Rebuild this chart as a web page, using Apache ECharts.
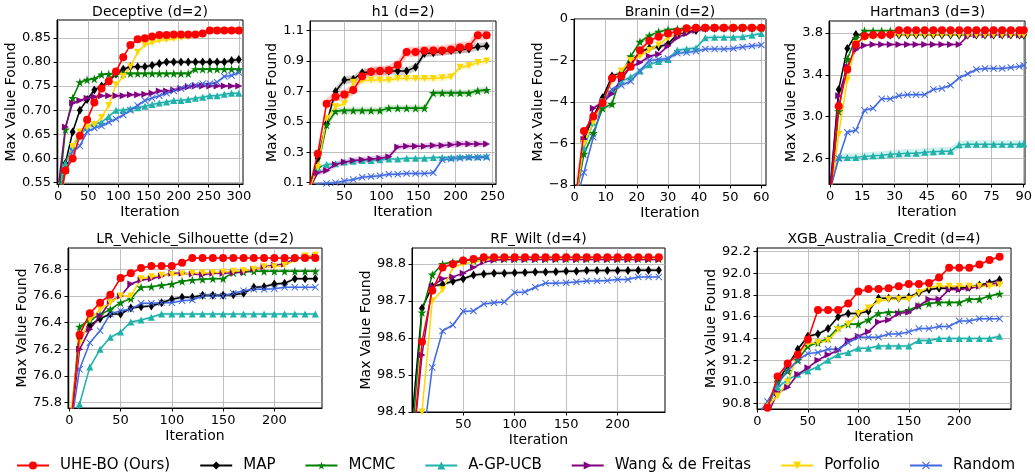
<!DOCTYPE html>
<html>
<head>
<meta charset="utf-8">
<script src="https://cdn.jsdelivr.net/npm/echarts@6/dist/echarts.min.js"></script>
<style>
html,body{margin:0;padding:0;background:#fff;}
#chart{width:1035px;height:475px;}
</style>
</head>
<body>
<div id="chart"></div>
<script>
// ---------------- Data ----------------
const methodNames = ['UHE-BO (Ours)','MAP','MCMC','A-GP-UCB','Wang & de Freitas','Porfolio','Random'];

// Deceptive (d=2)
const decIter = [1,12,24,36,48,60,72,84,96,108,120,132,144,156,168,180,192,204,216,228,240,252,264,276,288,300];
const decUHE  = [0.50,0.575,0.60,0.647,0.68,0.716,0.745,0.76,0.78,0.81,0.835,0.847,0.849,0.853,0.856,0.856,0.857,0.857,0.857,0.857,0.859,0.865,0.865,0.865,0.865,0.865];
const decMAP  = [0.50,0.59,0.655,0.70,0.722,0.742,0.75,0.76,0.775,0.785,0.79,0.79,0.79,0.793,0.797,0.80,0.80,0.80,0.80,0.80,0.80,0.80,0.80,0.80,0.803,0.805];
const decMCMC = [0.52,0.66,0.725,0.758,0.763,0.765,0.774,0.775,0.776,0.776,0.776,0.776,0.776,0.776,0.776,0.776,0.776,0.776,0.776,0.785,0.785,0.785,0.785,0.785,0.785,0.785];
const decAGP  = [0.52,0.59,0.625,0.647,0.665,0.672,0.675,0.687,0.70,0.70,0.703,0.705,0.708,0.712,0.715,0.717,0.72,0.72,0.722,0.725,0.727,0.73,0.73,0.733,0.735,0.735];
const decWang = [0.55,0.665,0.715,0.72,0.725,0.728,0.73,0.73,0.73,0.73,0.732,0.732,0.733,0.735,0.74,0.74,0.742,0.745,0.748,0.75,0.75,0.75,0.75,0.75,0.75,0.75];
const decPorf = [0.50,0.57,0.625,0.655,0.665,0.67,0.685,0.71,0.753,0.77,0.79,0.82,0.835,0.84,0.845,0.846,0.848,0.85,0.852,0.855,0.857,0.865,0.865,0.865,0.865,0.865];
const decRand = [0.50,0.575,0.615,0.626,0.655,0.663,0.667,0.675,0.682,0.69,0.70,0.71,0.72,0.725,0.73,0.735,0.74,0.745,0.75,0.752,0.755,0.755,0.758,0.77,0.772,0.778];
const decErr  = [0.004,0.004,0.003,0.004,0.004,0.004,0.004];
const decXTicks = [0,50,100,150,200,250,300];
const decYTicks = [0.55,0.60,0.65,0.70,0.75,0.80,0.85];

// h1 (d=2)
const h1Iter = [2,14,26,38,50,62,74,86,98,110,122,134,146,158,170,182,194,206,218,230,242];
const h1UHE  = [0.05,0.29,0.62,0.665,0.68,0.71,0.80,0.83,0.835,0.84,0.875,0.96,0.96,0.968,0.97,0.97,0.977,0.99,0.995,1.07,1.07];
const h1MAP  = [0.05,0.26,0.49,0.70,0.775,0.78,0.824,0.83,0.835,0.835,0.835,0.835,0.86,0.95,0.955,0.965,0.97,0.975,0.98,0.995,1.0];
const h1MCMC = [0.05,0.2,0.48,0.57,0.575,0.575,0.575,0.575,0.575,0.59,0.59,0.59,0.59,0.59,0.69,0.69,0.69,0.69,0.69,0.705,0.71];
const h1AGP  = [0.05,0.2,0.22,0.225,0.235,0.24,0.245,0.245,0.25,0.255,0.255,0.26,0.26,0.26,0.265,0.265,0.265,0.27,0.27,0.27,0.275];
const h1Wang = [0.05,0.165,0.18,0.22,0.235,0.245,0.25,0.255,0.26,0.27,0.335,0.34,0.34,0.34,0.345,0.345,0.35,0.355,0.355,0.355,0.355];
const h1Porf = [0.05,0.2,0.52,0.6,0.62,0.76,0.77,0.775,0.775,0.775,0.785,0.785,0.785,0.785,0.785,0.79,0.795,0.86,0.87,0.89,0.90];
const h1Rand = [0.05,0.09,0.095,0.1,0.11,0.12,0.135,0.14,0.145,0.155,0.155,0.16,0.16,0.16,0.165,0.25,0.255,0.26,0.265,0.265,0.265];
const h1Err  = [0.035,0.025,0.02,0.012,0.02,0.02,0.012];
const h1XTicks = [50,100,150,200,250];
const h1YTicks = [0.1,0.3,0.5,0.7,0.9,1.1];

// Branin (d=2)
const brIter = [0,3,6,9,12,15,18,21,24,27,30,33,36,39,42,45,48,51,54,57,60];
const brUHE  = [-9,-5.4,-4.7,-4.05,-2.85,-2.75,-2.3,-1.5,-1.05,-0.85,-0.7,-0.6,-0.45,-0.42,-0.42,-0.42,-0.42,-0.42,-0.42,-0.42,-0.42];
const brMAP  = [-9,-5.8,-4.7,-3.8,-2.75,-2.6,-2.1,-1.6,-1.4,-1.35,-1.2,-0.75,-0.6,-0.55,-0.45,-0.45,-0.45,-0.45,-0.45,-0.45,-0.45];
const brMCMC = [-9,-6.5,-5.5,-4.3,-4.1,-2.7,-1.8,-1.1,-0.8,-0.62,-0.52,-0.48,-0.45,-0.42,-0.42,-0.42,-0.42,-0.42,-0.42,-0.42,-0.42];
const brAGP  = [-9,-6.2,-5.0,-4.1,-3.5,-3.0,-2.8,-2.5,-2.2,-2.05,-1.95,-1.5,-1.45,-1.4,-0.9,-0.88,-0.88,-0.88,-0.85,-0.78,-0.7];
const brWang = [-9,-5.8,-4.3,-4.0,-3.6,-2.9,-2.3,-2.1,-1.8,-1.7,-1.3,-0.9,-0.7,-0.55,-0.45,-0.42,-0.42,-0.42,-0.42,-0.42,-0.42];
const brPorf = [-9,-6.0,-5.0,-4.0,-3.0,-2.5,-2.0,-1.8,-1.5,-1.25,-0.9,-0.7,-0.55,-0.45,-0.42,-0.42,-0.42,-0.42,-0.42,-0.42,-0.42];
const brRand = [-9,-7.4,-5.7,-4.0,-3.4,-3.2,-3.0,-2.5,-2.0,-1.95,-1.9,-1.65,-1.62,-1.55,-1.45,-1.45,-1.45,-1.42,-1.35,-1.3,-1.25];
const brErr  = [0.1,0.1,0.1,0.1,0.1,0.1,0.12];
const brXTicks = [0,10,20,30,40,50,60];
const brYTicks = [-8,-6,-4,-2,0];

// Hartman3 (d=3)
const hmIter = [0,4,8,12,16,20,24,28,32,36,40,44,48,52,56,60,64,68,72,76,80,84,88,90];
const hmUHE  = [2.2,3.1,3.45,3.69,3.77,3.78,3.78,3.785,3.825,3.825,3.825,3.825,3.825,3.825,3.825,3.825,3.825,3.825,3.825,3.825,3.825,3.825,3.825,3.825];
const hmMAP  = [2.3,3.26,3.65,3.785,3.78,3.78,3.78,3.78,3.78,3.78,3.78,3.78,3.78,3.78,3.78,3.78,3.78,3.78,3.78,3.78,3.78,3.78,3.78,3.78];
const hmMCMC = [2.2,3.05,3.55,3.75,3.82,3.82,3.82,3.82,3.82,3.82,3.82,3.82,3.82,3.82,3.82,3.82,3.82,3.82,3.82,3.82,3.82,3.82,3.82,3.82];
const hmAGP  = [2.3,2.61,2.61,2.61,2.62,2.625,2.63,2.64,2.645,2.65,2.65,2.66,2.665,2.67,2.67,2.73,2.735,2.735,2.735,2.735,2.735,2.735,2.735,2.74];
const hmWang = [2.3,3.2,3.48,3.64,3.68,3.69,3.69,3.69,3.69,3.69,3.69,3.69,3.69,3.69,3.69,3.69,3.77,3.78,3.78,3.78,3.78,3.78,3.78,3.78];
const hmPorf = [2.2,2.83,3.35,3.70,3.75,3.76,3.77,3.78,3.78,3.78,3.78,3.78,3.78,3.78,3.78,3.78,3.78,3.78,3.78,3.78,3.78,3.78,3.78,3.78];
const hmRand = [2.3,2.6,2.85,2.87,3.06,3.08,3.17,3.17,3.2,3.21,3.21,3.21,3.26,3.27,3.3,3.37,3.41,3.45,3.46,3.46,3.46,3.47,3.48,3.49];
const hmErr  = [0.01,0.01,0.01,0.04,0.012,0.01,0.015];
const hmXTicks = [0,15,30,45,60,75,90];
const hmYTicks = [2.6,3.0,3.4,3.8];

// LR_Vehicle_Silhouette (d=2)
const lrIter = [1,10,20,30,40,50,60,70,80,90,100,110,120,130,140,150,160,170,180,190,200,210,220,230,240];
const lrUHE  = [75.6,76.31,76.47,76.55,76.61,76.735,76.77,76.81,76.825,76.825,76.825,76.85,76.885,76.885,76.885,76.885,76.885,76.885,76.885,76.885,76.885,76.885,76.885,76.885,76.885];
const lrMAP  = [75.6,76.28,76.38,76.43,76.465,76.465,76.51,76.52,76.525,76.55,76.575,76.59,76.59,76.605,76.605,76.605,76.61,76.62,76.665,76.67,76.69,76.695,76.73,76.73,76.73];
const lrMCMC = [75.6,76.37,76.42,76.46,76.5,76.55,76.58,76.665,76.67,76.68,76.69,76.71,76.72,76.725,76.73,76.73,76.775,76.78,76.785,76.785,76.785,76.785,76.785,76.785,76.785];
const lrAGP  = [75.5,75.79,76.067,76.2,76.29,76.33,76.405,76.42,76.44,76.465,76.465,76.465,76.465,76.465,76.465,76.465,76.465,76.465,76.465,76.465,76.465,76.465,76.465,76.465,76.465];
const lrWang = [75.6,76.2,76.35,76.45,76.56,76.6,76.69,76.72,76.73,76.75,76.77,76.77,76.765,76.76,76.77,76.77,76.775,76.78,76.8,76.82,76.83,76.84,76.88,76.89,76.895];
const lrPorf = [75.7,76.25,76.42,76.5,76.55,76.6,76.6,76.73,76.745,76.755,76.76,76.765,76.77,76.775,76.775,76.78,76.785,76.79,76.8,76.82,76.82,76.83,76.87,76.9,76.905];
const lrRand = [75.6,76.05,76.25,76.34,76.465,76.49,76.5,76.545,76.545,76.55,76.55,76.565,76.57,76.6,76.6,76.6,76.62,76.64,76.65,76.65,76.655,76.665,76.665,76.665,76.665];
const lrErr  = [0.008,0.012,0.008,0.012,0.01,0.01,0.008];
const lrXTicks = [0,50,100,150,200];
const lrYTicks = [75.8,76.0,76.2,76.4,76.6,76.8];

// RF_Wilt (d=4)
const rfIter = [1,10,20,30,40,50,60,70,80,90,100,110,120,130,140,150,160,170,180,190,200,210,220,230,240];
const rfUHE  = [98.3,98.59,98.728,98.79,98.80,98.809,98.813,98.818,98.818,98.818,98.818,98.818,98.818,98.818,98.818,98.818,98.818,98.818,98.818,98.818,98.818,98.818,98.818,98.818,98.818];
const rfMAP  = [98.4,98.68,98.74,98.745,98.753,98.76,98.77,98.773,98.775,98.775,98.776,98.777,98.778,98.778,98.779,98.78,98.78,98.782,98.782,98.782,98.782,98.782,98.783,98.783,98.783];
const rfMCMC = [98.35,98.669,98.771,98.80,98.805,98.81,98.81,98.814,98.814,98.814,98.814,98.814,98.814,98.814,98.814,98.814,98.814,98.814,98.814,98.814,98.814,98.814,98.814,98.814,98.814];
const rfAGP  = [];
const rfWang = [98.3,98.554,98.74,98.76,98.765,98.775,98.79,98.805,98.81,98.812,98.812,98.812,98.812,98.812,98.812,98.812,98.812,98.812,98.812,98.812,98.812,98.812,98.812,98.812,98.812];
const rfPorf = [98.2,98.4,98.7,98.73,98.79,98.8,98.805,98.81,98.815,98.815,98.815,98.815,98.815,98.815,98.815,98.815,98.815,98.815,98.815,98.815,98.815,98.815,98.815,98.815,98.815];
const rfRand = [98.0,98.3,98.52,98.619,98.635,98.672,98.673,98.692,98.695,98.697,98.723,98.724,98.737,98.748,98.748,98.749,98.751,98.754,98.754,98.755,98.758,98.758,98.765,98.765,98.765];
const rfErr  = [0.003,0.005,0.003,0.003,0.003,0.003,0.004];
const rfXTicks = [50,100,150,200];
const rfYTicks = [98.4,98.5,98.6,98.7,98.8];

// XGB_Australia_Credit (d=4)
const xgIter = [1,10,20,30,40,50,60,70,80,90,100,110,120,130,140,150,160,170,180,190,200,210,220,230,240];
const xgUHE  = [90.6,90.763,91.05,91.17,91.25,91.39,91.66,91.66,91.66,91.72,91.83,91.855,91.855,91.86,91.88,91.90,91.90,91.91,91.96,92.05,92.05,92.05,92.08,92.12,92.15];
const xgMAP  = [90.6,90.75,91.0,91.15,91.3,91.42,91.44,91.49,91.6,91.63,91.63,91.65,91.77,91.77,91.77,91.78,91.82,91.85,91.86,91.86,91.86,91.87,91.89,91.91,91.94];
const xgMCMC = [90.6,90.75,91.0,91.1,91.2,91.33,91.36,91.4,91.5,91.53,91.53,91.57,91.63,91.64,91.64,91.66,91.7,91.72,91.73,91.73,91.73,91.76,91.76,91.79,91.81];
const xgAGP  = [90.6,90.78,90.95,91.02,91.07,91.1,91.14,91.2,91.25,91.27,91.31,91.31,91.33,91.33,91.33,91.33,91.38,91.38,91.4,91.4,91.4,91.4,91.4,91.4,91.42];
const xgWang = [90.5,90.7,90.9,90.95,91.07,91.13,91.2,91.25,91.29,91.38,91.42,91.46,91.55,91.57,91.63,91.64,91.7,91.76,91.76,91.85,91.85,91.86,91.88,91.9,91.91];
const xgPorf = [90.6,90.78,90.87,91.0,91.25,91.35,91.36,91.38,91.48,91.53,91.63,91.68,91.74,91.76,91.76,91.76,91.82,91.87,91.88,91.88,91.88,91.88,91.88,91.88,91.89];
const xgRand = [90.7,90.82,90.98,91.1,91.2,91.26,91.27,91.3,91.3,91.36,91.41,91.41,91.41,91.44,91.44,91.46,91.49,91.49,91.51,91.51,91.56,91.56,91.58,91.58,91.58];
const xgErr  = [0.015,0.015,0.012,0.015,0.015,0.015,0.012];
const xgXTicks = [0,50,100,150,200];
const xgYTicks = [90.8,91.0,91.2,91.4,91.6,91.8,92.0,92.2];

// ---------------- Styling / layout ----------------
const FONT = 'DejaVu Sans';
const COLORS = ['#ff0000','#000000','#008000','#20b2aa','#800080','#ffd700','#4169e1'];
const STAR = 'path://M50,0 L61,35 L98,35 L68,57 L79,91 L50,70 L21,91 L32,57 L2,35 L39,35 Z';
const XMARK = 'path://M0,10 L10,0 L50,40 L90,0 L100,10 L60,50 L100,90 L90,100 L50,60 L10,100 L0,90 L40,50 Z';
const TRI_R = 'path://M0,0 L100,50 L0,100 Z';
const TRI_D = 'path://M0,0 L100,0 L50,100 Z';
const TRI_U = 'path://M50,0 L100,100 L0,100 Z';
const SYMBOLS = ['circle','diamond',STAR,TRI_U,TRI_R,TRI_D,XMARK];
const SYMSIZE = [8,[6,9],9,7,7,7,7];

const panels = [
  {title:'Deceptive (d=2)', box:[57,20,186,164], x:decIter, ys:[decUHE,decMAP,decMCMC,decAGP,decWang,decPorf,decRand], err:decErr,
   xr:[-2,307], yr:[0.547,0.887], xt:decXTicks, yt:decYTicks, dec:2, yGap:31, titleTop:5},
  {title:'h1 (d=2)', box:[310,21,186,163], x:h1Iter, ys:[h1UHE,h1MAP,h1MCMC,h1AGP,h1Wang,h1Porf,h1Rand], err:h1Err,
   xr:[3.6,254.6], yr:[0.091,1.164], xt:h1XTicks, yt:h1YTicks, dec:1, yGap:24, titleTop:5},
  {title:'Branin (d=2)', box:[574,19,192,166], x:brIter, ys:[brUHE,brMAP,brMCMC,brAGP,brWang,brPorf,brRand], err:brErr,
   xr:[-0.2,61.5], yr:[-8,0], xt:brXTicks, yt:brYTicks, dec:0, yGap:24, titleTop:5},
  {title:'Hartman3 (d=3)', box:[829,21,197,163], x:hmIter, ys:[hmUHE,hmMAP,hmMCMC,hmAGP,hmWang,hmPorf,hmRand], err:hmErr,
   xr:[-0.5,90.6], yr:[2.356,3.914], xt:hmXTicks, yt:hmYTicks, dec:1, yGap:25, titleTop:5},
  {title:'LR_Vehicle_Silhouette (d=2)', box:[68,248,254,160], x:lrIter, ys:[lrUHE,lrMAP,lrMCMC,lrAGP,lrWang,lrPorf,lrRand], err:lrErr,
   xr:[-1.3,246.5], yr:[75.76,76.96], xt:lrXTicks, yt:lrYTicks, dec:1, yGap:38, titleTop:232},
  {title:'RF_Wilt (d=4)', box:[412,248,253,164], x:rfIter, ys:[rfUHE,rfMAP,rfMCMC,rfAGP,rfWang,rfPorf,rfRand], err:rfErr,
   xr:[0.3,246], yr:[98.4,98.843], xt:rfXTicks, yt:rfYTicks, dec:1, yGap:38, titleTop:232},
  {title:'XGB_Australia_Credit (d=4)', box:[757,248,254,161], x:xgIter, ys:[xgUHE,xgMAP,xgMCMC,xgAGP,xgWang,xgPorf,xgRand], err:xgErr,
   xr:[-0.4,251.3], yr:[90.751,92.231], xt:xgXTicks, yt:xgYTicks, dec:1, yGap:37, titleTop:232}
];

function fmt(v, dec) {
  let s = Number(v).toFixed(dec);
  if (s.charAt(0) === '-') s = '\u2212' + s.slice(1);
  return s;
}

const grids = [], xAxes = [], yAxes = [], titles = [], series = [];
const drawOrder = [1,2,3,4,5,6,0];

panels.forEach((p, gi) => {
  const [l, t, w, h] = p.box;
  grids.push({left:l, top:t, width:w, height:h, show:true, borderColor:'#000', borderWidth:1, containLabel:false});
  titles.push({text:p.title, left:l + w/2, top:p.titleTop, textAlign:'center', padding:0,
    textStyle:{fontFamily:FONT, fontSize:14, fontWeight:'normal', color:'#000'}});
  xAxes.push({type:'value', gridIndex:gi, min:p.xr[0], max:p.xr[1],
    name:'Iteration', nameLocation:'middle', nameGap:21,
    nameTextStyle:{fontFamily:FONT, fontSize:14, color:'#000'},
    axisLine:{show:true, onZero:false, lineStyle:{color:'#000', width:1}},
    axisTick:{show:true, length:3.5, customValues:p.xt, lineStyle:{color:'#000'}},
    axisLabel:{customValues:p.xt, margin:6, fontFamily:FONT, fontSize:13, color:'#000', formatter:v => String(Math.round(v))},
    splitLine:{show:true, lineStyle:{color:'#b0b0b0', width:0.8}}});
  yAxes.push({type:'value', gridIndex:gi, min:p.yr[0], max:p.yr[1],
    name:'Max Value Found', nameLocation:'middle', nameGap:p.yGap,
    nameTextStyle:{fontFamily:FONT, fontSize:14, color:'#000'},
    axisLine:{show:true, onZero:false, lineStyle:{color:'#000', width:1}},
    axisTick:{show:true, length:3.5, customValues:p.yt, lineStyle:{color:'#000'}},
    axisLabel:{customValues:p.yt, margin:6, fontFamily:FONT, fontSize:13, color:'#000', formatter:v => fmt(v, p.dec)},
    splitLine:{show:true, lineStyle:{color:'#b0b0b0', width:0.8}}});

  // error bands
  p.ys.forEach((ys, k) => {
    if (!ys.length) return;
    const xs = p.x, e = p.err[k];
    series.push({type:'custom', xAxisIndex:gi, yAxisIndex:gi, z:1, silent:true, clip:true, data:[0],
      renderItem: function(params, api) {
        const cy = v => Math.max(p.yr[0], Math.min(p.yr[1], v));
        const cx = v => Math.max(p.xr[0], Math.min(p.xr[1], v));
        const pts = [];
        for (let i = 0; i < xs.length; i++) pts.push(api.coord([cx(xs[i]), cy(ys[i] + e)]));
        for (let i = xs.length - 1; i >= 0; i--) pts.push(api.coord([cx(xs[i]), cy(ys[i] - e)]));
        return {type:'polygon', shape:{points:pts}, style:{fill:COLORS[k], opacity:0.2}};
      }});
  });

  // lines
  drawOrder.forEach(k => {
    const ys = p.ys[k];
    const data = ys.map((y, i) => i === 0 ? {value:[p.x[i], y], symbol:'none'} : [p.x[i], y]);
    series.push({type:'line', name:methodNames[k], xAxisIndex:gi, yAxisIndex:gi, z:3 + (k === 0 ? 1 : 0),
      data:data, clip:true, showSymbol:true, showAllSymbol:true,
      symbol:SYMBOLS[k], symbolSize:SYMSIZE[k],
      lineStyle:{color:COLORS[k], width:1.5},
      itemStyle:{color:COLORS[k]},
      emphasis:{disabled:true}});
  });
});

const chart = echarts.init(document.getElementById('chart'), null, {renderer:'canvas'});
chart.setOption({
  animation:false,
  backgroundColor:'#fff',
  title:titles,
  grid:grids,
  xAxis:xAxes,
  yAxis:yAxes,
  legend:{data:methodNames, left:16, top:458, padding:0, itemGap:29, itemWidth:32, itemHeight:10,
    textStyle:{fontFamily:FONT, fontSize:15, color:'#000', padding:[0,0,0,6]}},
  series:series
});
</script>
</body>
</html>
